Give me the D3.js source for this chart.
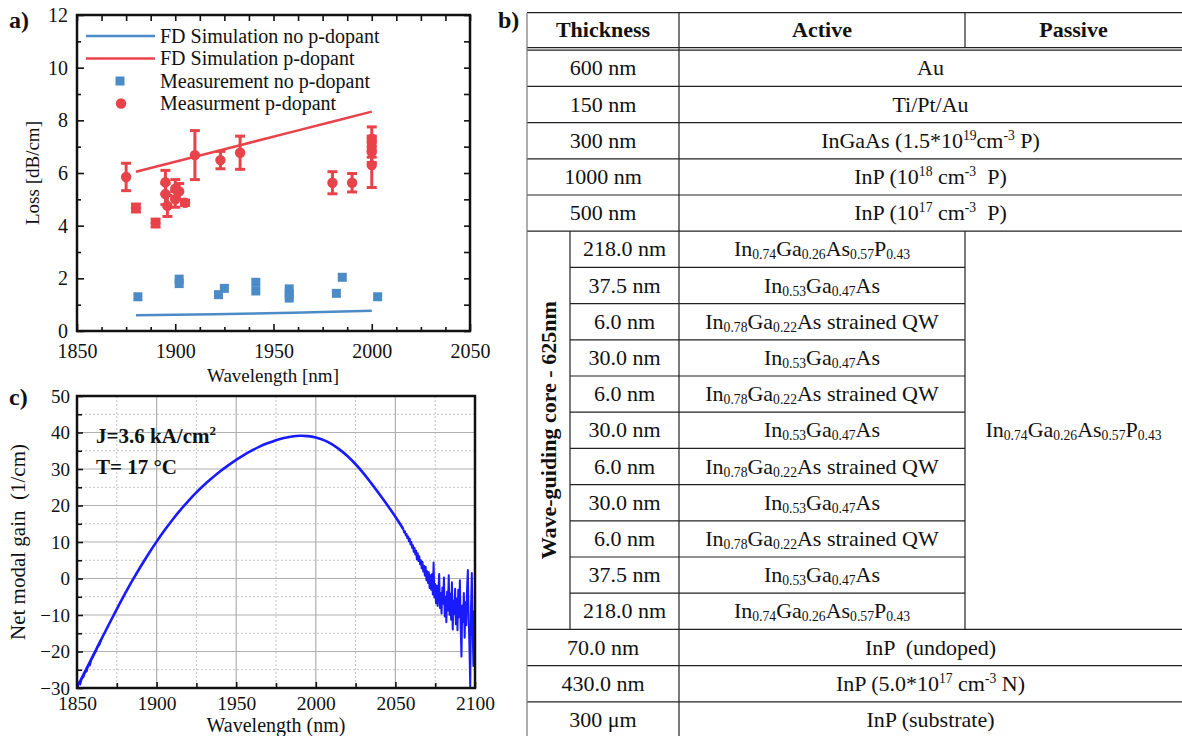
<!DOCTYPE html>
<html>
<head>
<meta charset="utf-8">
<script src="https://cdn.jsdelivr.net/npm/d3@7"></script>
<style>
body { margin: 0; background: #fff; }
svg text { font-family: "Liberation Serif", "Tinos", "Times New Roman", "Times", "Nimbus Roman", "DejaVu Serif", "Noto Serif", serif; fill: #111; white-space: pre; }
</style>
</head>
<body>
<svg id="fig" width="1182" height="736"></svg>
<script>
// ---------- panel a : loss ----------
var simWl = [1880, 1920, 1960, 2000];
var simNoDopant = [0.60, 0.64, 0.69, 0.77];
var simDopant = [6.05, 6.81, 7.57, 8.33];

var measNoWl = [1881, 1902, 1902, 1922, 1925, 1941, 1941, 1958, 1958, 1958, 1982, 1985, 2003];
var measNoLoss = [1.30, 1.97, 1.80, 1.38, 1.62, 1.85, 1.52, 1.60, 1.40, 1.25, 1.43, 2.04, 1.30];

var measPWl = [1875, 1880, 1890, 1895, 1895, 1896, 1900, 1900, 1902, 1905, 1910, 1923, 1933, 1980, 1990, 2000, 2000, 2000, 2000];
var measPLoss = [5.85, 4.67, 4.10, 5.65, 5.20, 4.75, 5.40, 5.00, 5.30, 4.87, 6.68, 6.49, 6.77, 5.63, 5.63, 7.30, 7.00, 6.80, 6.30];
var measPErr = [0.52, 0.15, 0.15, 0.45, 0.40, 0.40, 0.35, 0.30, 0.30, 0.10, 0.93, 0.33, 0.63, 0.42, 0.35, 0.45, 0.40, 0.40, 0.85];

var legendA = ["FD Simulation no p-dopant", "FD Simulation p-dopant", "Measurement no p-dopant", "Measurment p-dopant"];

// ---------- panel c : net modal gain ----------
var gainMain = [
	[1850, -29.8], [1855, -25.5], [1860, -21.2], [1865, -16.9], [1870, -12.6], [1875, -8.4],
	[1880, -4.3], [1885, -0.4], [1890, 3.3], [1895, 6.8], [1900, 10.1], [1905, 13.2],
	[1910, 16.1], [1915, 18.8], [1920, 21.3], [1925, 23.6], [1930, 25.7], [1935, 27.6],
	[1940, 29.4], [1945, 31.0], [1950, 32.5], [1955, 33.9], [1960, 35.1], [1965, 36.2],
	[1970, 37.1], [1975, 37.9], [1980, 38.5], [1985, 38.9], [1990, 39.1], [1995, 39.0],
	[2000, 38.6], [2005, 37.9], [2010, 36.8], [2015, 35.3], [2020, 33.5], [2025, 31.3],
	[2030, 28.8], [2035, 26.0], [2040, 23.1], [2045, 20.1], [2050, 16.9], [2055, 13.5]
];
var gainLowNoise = [
	[1850, -30.0], [1851, -28.6], [1852, -28.9], [1853, -27.3], [1854, -27.0], [1855, -25.7],
	[1856, -25.4], [1857, -23.9], [1858, -23.8], [1859, -22.2], [1860, -21.5], [1861, -20.5],
	[1862, -19.8], [1863, -18.6], [1864, -18.2], [1865, -16.9]
];
var gainTail = [
	[2055.5, 12.6], [2056.0, 12.9], [2056.5, 11.8], [2057.0, 12.2], [2057.5, 11.0], [2058.0, 11.5],
	[2058.5, 10.2], [2059.0, 10.9], [2059.5, 9.3], [2060.0, 10.0], [2060.5, 8.4], [2061.0, 9.1],
	[2061.5, 7.3], [2062.0, 8.4], [2062.5, 6.6], [2063.0, 7.6], [2063.5, 5.2], [2064.0, 6.9],
	[2064.5, 4.8], [2065.0, 6.1], [2065.5, 3.9], [2066.0, 5.0], [2066.5, 2.8], [2067.0, 4.6],
	[2067.5, 1.9], [2068.0, 3.5], [2068.5, 0.8], [2069.0, 3.2], [2069.5, -0.5], [2070.0, 2.0],
	[2070.5, -1.2], [2071.0, 1.7], [2071.5, -2.6], [2072.0, 0.9], [2072.5, -3.1], [2073.0, 1.2],
	[2073.5, -4.4], [2074.0, 4.4], [2074.5, -5.2], [2075.0, -1.5], [2075.5, -6.8], [2076.0, -2.0],
	[2076.5, -7.5], [2077.0, -3.0], [2077.5, 1.2], [2078.0, -8.1], [2078.5, -4.0], [2079.0, -9.6],
	[2079.5, -2.5], [2080.0, -6.9], [2080.5, 0.3], [2081.0, -10.4], [2081.5, -5.0], [2082.0, -12.0],
	[2082.5, -3.6], [2083.0, -8.8], [2083.5, 0.9], [2084.0, -9.9], [2084.5, -4.2], [2085.0, -11.3],
	[2085.5, -1.0], [2086.0, -14.0], [2086.5, -6.1], [2087.0, -9.7], [2087.5, -2.8], [2088.0, -12.5],
	[2088.5, -5.5], [2089.0, -14.2], [2089.5, -3.1], [2090.0, -10.6], [2090.5, -0.5], [2091.0, -13.1],
	[2091.5, -21.4], [2092.0, -7.4], [2092.5, -11.9], [2093.0, -4.0], [2093.5, -16.2], [2094.0, -6.5],
	[2094.5, -12.8], [2095.0, -2.9], [2095.5, 2.3], [2096.0, -10.7], [2096.5, -18.5], [2097.0, -29.6],
	[2097.5, -8.0], [2098.0, 1.5], [2098.5, -13.4], [2099.0, -24.0], [2099.5, -9.0], [2100.0, -15.0]
];

// ---------- panel b : layer table ----------
var headers = ["Thickness", "Active", "Passive"];
var topRows = [
	["600 nm", "Au"],
	["150 nm", "Ti/Pt/Au"],
	["300 nm", "InGaAs (1.5*10^{19}cm^{-3} P)"],
	["1000 nm", "InP (10^{18} cm^{-3}  P)"],
	["500 nm", "InP (10^{17} cm^{-3}  P)"]
];
var coreRows = [
	["218.0 nm", "In_{0.74}Ga_{0.26}As_{0.57}P_{0.43}"],
	["37.5 nm", "In_{0.53}Ga_{0.47}As"],
	["6.0 nm", "In_{0.78}Ga_{0.22}As strained QW"],
	["30.0 nm", "In_{0.53}Ga_{0.47}As"],
	["6.0 nm", "In_{0.78}Ga_{0.22}As strained QW"],
	["30.0 nm", "In_{0.53}Ga_{0.47}As"],
	["6.0 nm", "In_{0.78}Ga_{0.22}As strained QW"],
	["30.0 nm", "In_{0.53}Ga_{0.47}As"],
	["6.0 nm", "In_{0.78}Ga_{0.22}As strained QW"],
	["37.5 nm", "In_{0.53}Ga_{0.47}As"],
	["218.0 nm", "In_{0.74}Ga_{0.26}As_{0.57}P_{0.43}"]
];
var coreLabel = "Wave-guiding core - 625nm";
var corePassive = "In_{0.74}Ga_{0.26}As_{0.57}P_{0.43}";
var bottomRows = [
	["70.0 nm", "InP  (undoped)"],
	["430.0 nm", "InP (5.0*10^{17} cm^{-3} N)"],
	["300 \u03bcm", "InP (substrate)"]
];

var RED = "#e8434a", BLUE = "#4b8bc6", GAIN = "#1a1aff";
var SERIF = "'Liberation Serif', 'Tinos', 'Times New Roman', 'DejaVu Serif', serif";
var svg = d3.select("#fig");

// text with _{sub} and ^{sup} pieces
function richText(sel, str, size) {
	var parts = str.split(/(_\{[^}]*\}|\^\{[^}]*\})/g);
	var shift = 0;
	parts.forEach(function (p) {
		if (!p) return;
		var t = sel.append("tspan");
		if (p[0] === "_" && p[1] === "{") {
			t.attr("font-size", size * 0.62).attr("dy", 3 - shift).text(p.slice(2, -1));
			shift = 3;
		} else if (p[0] === "^" && p[1] === "{") {
			t.attr("font-size", size * 0.62).attr("dy", -8 - shift).text(p.slice(2, -1));
			shift = -8;
		} else {
			t.attr("dy", -shift).text(p);
			shift = 0;
		}
	});
}

function minorOf(lo, hi, step, majorStep) {
	var out = [];
	for (var v = lo; v <= hi + 1e-9; v += step) {
		if (Math.abs(v / majorStep - Math.round(v / majorStep)) > 1e-6) out.push(v);
	}
	return out;
}

function styleAxis(g, size) {
	g.attr("font-family", SERIF);
	g.select(".domain").remove();
	g.selectAll("line").attr("stroke", "#111").attr("stroke-width", 1.6);
	g.selectAll("text").attr("font-family", SERIF).attr("font-size", size).attr("fill", "#111");
}

// ================= panel a =================
(function () {
	var x = d3.scaleLinear().domain([1850, 2050]).range([77, 470]);
	var y = d3.scaleLinear().domain([0, 12]).range([331, 15]);
	var g = svg.append("g").attr("font-family", SERIF);
	var xMaj = [1850, 1900, 1950, 2000, 2050], xMin = minorOf(1850, 2050, 12.5, 50);
	var yMaj = [0, 2, 4, 6, 8, 10, 12], yMin = minorOf(0, 12, 1, 2);

	g.append("g").attr("transform", "translate(0,331)")
		.call(d3.axisBottom(x).tickValues(xMaj).tickSizeInner(-7).tickSizeOuter(0).tickPadding(13).tickFormat(d3.format("d")))
		.call(styleAxis, 20);
	g.append("g").attr("transform", "translate(0,331)")
		.call(d3.axisBottom(x).tickValues(xMin).tickSizeInner(-4).tickSizeOuter(0).tickFormat(""))
		.call(styleAxis, 20);
	g.append("g").attr("transform", "translate(0,15)")
		.call(d3.axisTop(x).tickValues(xMaj.concat(xMin)).tickSize(-6).tickFormat(""))
		.call(styleAxis, 20);
	g.append("g").attr("transform", "translate(77,0)")
		.call(d3.axisLeft(y).tickValues(yMaj).tickSizeInner(-7).tickSizeOuter(0).tickPadding(9))
		.call(styleAxis, 20);
	g.append("g").attr("transform", "translate(77,0)")
		.call(d3.axisLeft(y).tickValues(yMin).tickSizeInner(-4).tickSizeOuter(0).tickFormat(""))
		.call(styleAxis, 20);
	g.append("g").attr("transform", "translate(470,0)")
		.call(d3.axisRight(y).tickValues(yMaj.concat(yMin)).tickSize(-6).tickFormat(""))
		.call(styleAxis, 20);

	g.append("rect").attr("x", 77).attr("y", 15).attr("width", 393).attr("height", 316)
		.attr("fill", "none").attr("stroke", "#111").attr("stroke-width", 2.5);

	var line = d3.line().x(function (d) { return x(d[0]); }).y(function (d) { return y(d[1]); })
		.curve(d3.curveMonotoneX);
	g.append("path").datum(d3.zip(simWl, simNoDopant)).attr("d", line)
		.attr("fill", "none").attr("stroke", BLUE).attr("stroke-width", 2.5);
	g.append("path").datum(d3.zip(simWl, simDopant)).attr("d", line)
		.attr("fill", "none").attr("stroke", RED).attr("stroke-width", 2.5);

	g.append("g").selectAll("rect").data(d3.zip(measNoWl, measNoLoss)).enter().append("rect")
		.attr("x", function (d) { return x(d[0]) - 4.5; })
		.attr("y", function (d) { return y(d[1]) - 4.5; })
		.attr("width", 9).attr("height", 9).attr("fill", BLUE);

	var pts = measPWl.map(function (w, i) { return { w: w, v: measPLoss[i], e: measPErr[i] }; });
	var eb = g.append("g").attr("stroke", RED).attr("stroke-width", 3);
	eb.selectAll("line.bar").data(pts).enter().append("line")
		.attr("x1", function (d) { return x(d.w); }).attr("x2", function (d) { return x(d.w); })
		.attr("y1", function (d) { return y(d.v + d.e); }).attr("y2", function (d) { return y(d.v - d.e); });
	[1, -1].forEach(function (s) {
		eb.selectAll(null).data(pts).enter().append("line")
			.attr("x1", function (d) { return x(d.w) - 5; }).attr("x2", function (d) { return x(d.w) + 5; })
			.attr("y1", function (d) { return y(d.v + s * d.e); }).attr("y2", function (d) { return y(d.v + s * d.e); });
	});
	g.append("g").selectAll("circle").data(pts).enter().append("circle")
		.attr("cx", function (d) { return x(d.w); }).attr("cy", function (d) { return y(d.v); })
		.attr("r", 5.2).attr("fill", RED);

	// legend
	var lg = g.append("g");
	var ly = [36, 58.5, 81, 103.5];
	lg.append("line").attr("x1", 86).attr("x2", 155).attr("y1", ly[0]).attr("y2", ly[0]).attr("stroke", BLUE).attr("stroke-width", 2.5);
	lg.append("line").attr("x1", 86).attr("x2", 155).attr("y1", ly[1]).attr("y2", ly[1]).attr("stroke", RED).attr("stroke-width", 2.5);
	lg.append("rect").attr("x", 115.5).attr("y", ly[2] - 4.5).attr("width", 9).attr("height", 9).attr("fill", BLUE);
	lg.append("circle").attr("cx", 121).attr("cy", ly[3]).attr("r", 5.2).attr("fill", RED);
	lg.selectAll("text").data(legendA).enter().append("text")
		.attr("x", 160).attr("y", function (d, i) { return ly[i] + 6.5; })
		.attr("font-family", SERIF).attr("font-size", 20).text(function (d) { return d; });

	g.append("text").attr("transform", "translate(39,173) rotate(-90)").attr("text-anchor", "middle")
		.attr("font-family", SERIF).attr("font-size", 19).text("Loss [dB/cm]");
	g.append("text").attr("x", 273).attr("y", 382).attr("text-anchor", "middle")
		.attr("font-family", SERIF).attr("font-size", 19).text("Wavelength [nm]");
	g.append("text").attr("x", 9).attr("y", 28).attr("font-family", SERIF).attr("font-size", 24).attr("font-weight", "bold").text("a)");
})();

// ================= panel c =================
(function () {
	var x = d3.scaleLinear().domain([1850, 2100]).range([77, 475]);
	var y = d3.scaleLinear().domain([-30, 50]).range([688, 396]);
	var g = svg.append("g").attr("font-family", SERIF);
	var xMaj = d3.range(1850, 2101, 50), xMin = minorOf(1850, 2100, 25, 50);
	var yMaj = d3.range(-30, 51, 10), yMin = minorOf(-30, 50, 5, 10);

	var grid = g.append("g");
	grid.selectAll("line.gx").data(xMin).enter().append("line")
		.attr("x1", x).attr("x2", x).attr("y1", 396).attr("y2", 688)
		.attr("stroke", "#c4c4c4").attr("stroke-dasharray", "2,2");
	grid.selectAll("line.gy").data(yMin).enter().append("line")
		.attr("y1", y).attr("y2", y).attr("x1", 77).attr("x2", 475)
		.attr("stroke", "#c4c4c4").attr("stroke-dasharray", "2,2");
	grid.selectAll("line.mx").data(xMaj).enter().append("line")
		.attr("x1", x).attr("x2", x).attr("y1", 396).attr("y2", 688)
		.attr("stroke", "#b0b0b0").attr("stroke-width", 1.2);
	grid.selectAll("line.my").data(yMaj).enter().append("line")
		.attr("y1", y).attr("y2", y).attr("x1", 77).attr("x2", 475)
		.attr("stroke", "#b0b0b0").attr("stroke-width", 1.2);

	g.append("g").attr("transform", "translate(0,688)")
		.call(d3.axisBottom(x).tickValues(xMaj).tickSizeInner(-6).tickSizeOuter(0).tickPadding(8).tickFormat(d3.format("d")))
		.call(styleAxis, 19.5);
	g.append("g").attr("transform", "translate(0,688)")
		.call(d3.axisBottom(x).tickValues(xMin).tickSizeInner(-5).tickSizeOuter(0).tickFormat(""))
		.call(styleAxis, 19.5);
	g.append("g").attr("transform", "translate(77,0)")
		.call(d3.axisLeft(y).tickValues(yMaj).tickSizeInner(-6).tickSizeOuter(0).tickPadding(7))
		.call(styleAxis, 19);
	g.append("g").attr("transform", "translate(77,0)")
		.call(d3.axisLeft(y).tickValues(yMin).tickSizeInner(-5).tickSizeOuter(0).tickFormat(""))
		.call(styleAxis, 19);

	svg.append("clipPath").attr("id", "clipC").append("rect")
		.attr("x", 77).attr("y", 396).attr("width", 398).attr("height", 292);
	var line = d3.line().x(function (d) { return x(d[0]); }).y(function (d) { return y(d[1]); });
	var curves = g.append("g").attr("clip-path", "url(#clipC)");
	curves.append("path").datum(gainMain).attr("d", line.curve(d3.curveCatmullRom))
		.attr("fill", "none").attr("stroke", GAIN).attr("stroke-width", 2.6);
	curves.append("path").datum(gainLowNoise).attr("d", line.curve(d3.curveLinear))
		.attr("fill", "none").attr("stroke", GAIN).attr("stroke-width", 2.2);
	curves.append("path").datum([gainMain[gainMain.length - 1]].concat(gainTail)).attr("d", line.curve(d3.curveLinear))
		.attr("fill", "none").attr("stroke", GAIN).attr("stroke-width", 2).attr("stroke-linejoin", "round");

	g.append("rect").attr("x", 77).attr("y", 396).attr("width", 398).attr("height", 292)
		.attr("fill", "none").attr("stroke", "#111").attr("stroke-width", 2.5);

	var j = g.append("text").attr("x", 96).attr("y", 443).attr("font-family", SERIF).attr("font-size", 21).attr("font-weight", "bold");
	richText(j, "J=3.6 kA/cm^{2}", 21);
	g.append("text").attr("x", 96).attr("y", 474).attr("font-family", SERIF).attr("font-size", 21).attr("font-weight", "bold")
		.text("T= 17 \u00b0C");

	g.append("text").attr("transform", "translate(25,542) rotate(-90)").attr("text-anchor", "middle")
		.attr("font-family", SERIF).attr("font-size", 21).text("Net modal gain  (1/cm)");
	g.append("text").attr("x", 276).attr("y", 731.5).attr("text-anchor", "middle")
		.attr("font-family", SERIF).attr("font-size", 20).text("Wavelength (nm)");
	g.append("text").attr("x", 9).attr("y", 405).attr("font-family", SERIF).attr("font-size", 24).attr("font-weight", "bold").text("c)");
})();

// ================= panel b =================
(function () {
	var g = svg.append("g").attr("font-family", SERIF);
	var colL = 527, colSub = 570, colA = 679, colP = 965, colR = 1182;
	var headTop = 12.7, headBot = 47.7;
	var fs = 22;
	var cs = topRows.length, ce = cs + coreRows.length;
	var nRows = ce + bottomRows.length;
	var rowY = d3.scaleLinear().domain([0, nRows]).range([50.2, 738]);
	var mid = function (i) { return (rowY(i) + rowY(i + 1)) / 2 + 7; };

	var hl = [[colL, colR, headTop], [colL, colR, headBot], [colL, colR, headBot + 2.5]];
	for (var i = 1; i < nRows; i++) {
		if (i > cs && i < ce) hl.push([colSub, colP, rowY(i)]);
		else hl.push([colL, colR, rowY(i)]);
	}
	var vl = [[colL, headTop, 736], [colA, headTop, 736], [colP, headTop, headBot],
		[colP, rowY(cs), rowY(ce)], [colSub, rowY(cs), rowY(ce)]];

	g.selectAll("line.h").data(hl).enter().append("line")
		.attr("x1", function (d) { return d[0]; }).attr("x2", function (d) { return d[1]; })
		.attr("y1", function (d) { return d[2]; }).attr("y2", function (d) { return d[2]; })
		.attr("stroke", "#222").attr("stroke-width", 1.2);
	g.selectAll("line.v").data(vl).enter().append("line")
		.attr("x1", function (d) { return d[0]; }).attr("x2", function (d) { return d[0]; })
		.attr("y1", function (d) { return d[1]; }).attr("y2", function (d) { return d[2]; })
		.attr("stroke", function (d) { return d[0] === colL ? "#777" : "#222"; }).attr("stroke-width", 1.2);

	var hx = [(colL + colA) / 2, (colA + colP) / 2, (colP + colR) / 2];
	g.selectAll("text.head").data(headers).enter().append("text")
		.attr("x", function (d, i) { return hx[i]; }).attr("y", (headTop + headBot) / 2 + 7)
		.attr("text-anchor", "middle").attr("font-family", SERIF).attr("font-size", fs).attr("font-weight", "bold")
		.text(function (d) { return d; });

	function cell(x, y, str) {
		var t = g.append("text").attr("x", x).attr("y", y).attr("text-anchor", "middle")
			.attr("font-family", SERIF).attr("font-size", fs);
		richText(t, str, fs);
	}
	topRows.forEach(function (r, i) {
		cell((colL + colA) / 2, mid(i), r[0]);
		cell((colA + colR) / 2, mid(i), r[1]);
	});
	coreRows.forEach(function (r, i) {
		cell((colSub + colA) / 2, mid(cs + i), r[0]);
		cell((colA + colP) / 2, mid(cs + i), r[1]);
	});
	cell((colP + colR) / 2, (rowY(cs) + rowY(ce)) / 2 + 7, corePassive);
	bottomRows.forEach(function (r, i) {
		cell((colL + colA) / 2, mid(ce + i), r[0]);
		cell((colA + colR) / 2, mid(ce + i), r[1]);
	});
	g.append("text").attr("transform", "translate(" + ((colL + colSub) / 2 + 7) + "," + ((rowY(cs) + rowY(ce)) / 2) + ") rotate(-90)")
		.attr("text-anchor", "middle").attr("font-family", SERIF).attr("font-size", fs).attr("font-weight", "bold").text(coreLabel);

	g.append("text").attr("x", 498).attr("y", 28).attr("font-family", SERIF).attr("font-size", 24).attr("font-weight", "bold").text("b)");
})();
</script>
</body>
</html>
